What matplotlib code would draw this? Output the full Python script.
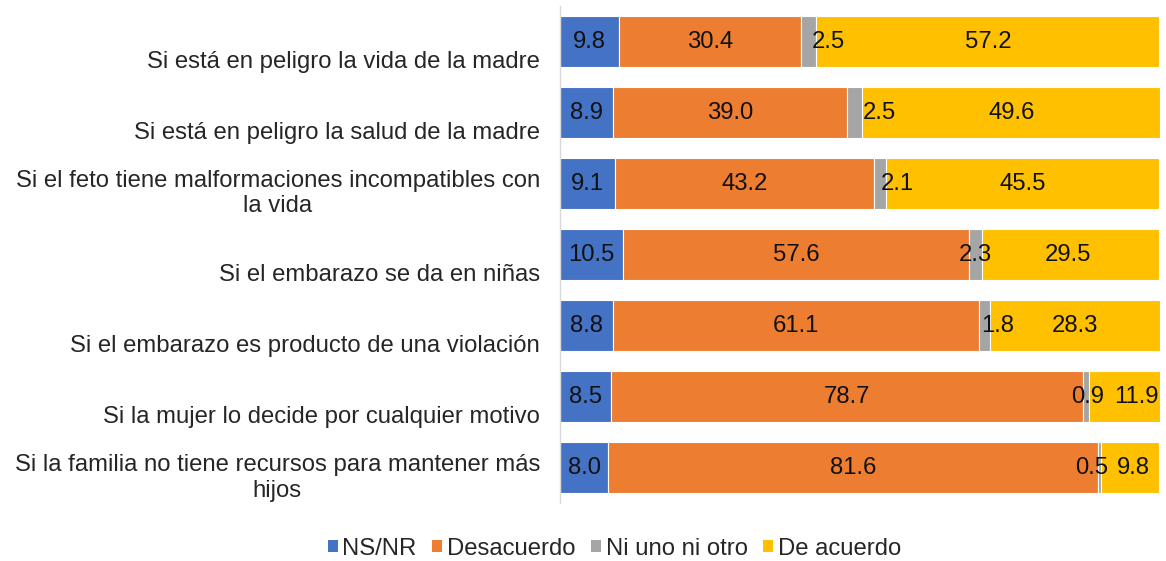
import matplotlib.pyplot as plt
from matplotlib.transforms import blended_transform_factory
from matplotlib.patches import Patch

plt.rcParams['font.family'] = ['Liberation Sans', 'DejaVu Sans']

# Survey data: share of answers per situation (percent)
situaciones = [
    "Si está en peligro la vida de la madre",
    "Si está en peligro la salud de la madre",
    "Si el feto tiene malformaciones incompatibles con\nla vida",
    "Si el embarazo se da en niñas",
    "Si el embarazo es producto de una violación",
    "Si la mujer lo decide por cualquier motivo",
    "Si la familia no tiene recursos para mantener más\nhijos",
]
ns_nr = [9.8, 8.9, 9.1, 10.5, 8.8, 8.5, 8.0]
desacuerdo = [30.4, 39.0, 43.2, 57.6, 61.1, 78.7, 81.6]
ni_uno = [2.5, 2.5, 2.1, 2.3, 1.8, 0.9, 0.5]
de_acuerdo = [57.2, 49.6, 45.5, 29.5, 28.3, 11.9, 9.8]

series = [
    ("NS/NR", ns_nr, "#4472C4"),
    ("Desacuerdo", desacuerdo, "#ED7D31"),
    ("Ni uno ni otro", ni_uno, "#A5A5A5"),
    ("De acuerdo", de_acuerdo, "#FFC000"),
]

# label nudges (data units) for the narrow grey and the last yellow segments
gray_shift = [3.3, 4.1, 2.8, 0.0, 2.2, 0.3, -1.2]
yellow_shift = [0, 0, 0, -0.5, 0, 2.0, 0.5]

FS = 17.2

fig = plt.figure(figsize=(11.66, 5.61), dpi=100)
ax = fig.add_axes([0.4803, 0.103, 0.5146, 0.886])

y = list(range(len(situaciones)))
left = [0.0] * len(y)
for k, (name, vals, color) in enumerate(series):
    ax.barh(y, vals, left=left, height=0.72, color=color,
            edgecolor="white", linewidth=0.8, label=name)
    for i, v in enumerate(vals):
        xc = left[i] + v / 2
        if k == 2:
            xc += gray_shift[i]
        elif k == 3:
            xc += yellow_shift[i]
        ax.text(xc, i, f"{v:.1f}", ha="center", va="center",
                fontsize=FS, color="#111111")
    left = [a + b for a, b in zip(left, vals)]

ax.set_xlim(0, 100)
ax.set_ylim(len(y) - 0.5, -0.5)
ax.set_xticks([])
ax.set_yticks([])
for s in ["top", "right", "bottom"]:
    ax.spines[s].set_visible(False)
ax.spines["left"].set_color("#D9D9D9")
ax.spines["left"].set_linewidth(1.0)

# category labels to the left of the axis
trans = blended_transform_factory(fig.transFigure, ax.transData)
for i, lab in enumerate(situaciones):
    off = 0.14 if "\n" in lab else 0.29
    ax.text(540 / 1166, i + off, lab, transform=trans, ha="right",
            va="center", multialignment="center", fontsize=FS,
            color="#262626", linespacing=1.22)

handles = [Patch(facecolor=c, label=n) for n, _, c in series]
fig.legend(handles=handles, loc="center", bbox_to_anchor=(0.527, 0.022),
           ncol=4, frameon=False, fontsize=FS, handlelength=0.42,
           handleheight=0.42, handletextpad=0.2, columnspacing=0.65,
           labelcolor="#262626")

fig.savefig("out.png", dpi=100)
